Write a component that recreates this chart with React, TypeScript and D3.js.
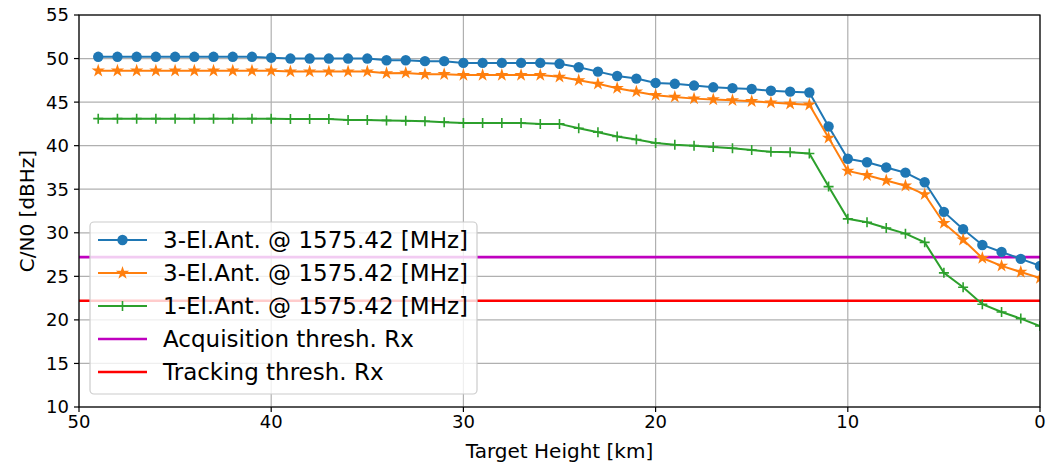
import * as d3 from "d3";
import { useEffect, useRef } from "react";

// target height in km, 49 down to 0
const heights = d3.range(49, -1, -1);

const ant3a = [
  50.2, 50.2, 50.2, 50.2, 50.2, 50.2, 50.2, 50.2, 50.2, 50.1,
  50.0, 50.0, 50.0, 50.0, 50.0, 49.8, 49.8, 49.7, 49.7, 49.5,
  49.5, 49.5, 49.5, 49.5, 49.4, 49.0, 48.5, 48.0, 47.7, 47.2,
  47.1, 46.9, 46.7, 46.6, 46.5, 46.3, 46.2, 46.1, 42.2, 38.5,
  38.1, 37.5, 36.9, 35.8, 32.4, 30.4, 28.6, 27.8, 27.0, 26.2,
];
const ant3b = [
  48.6, 48.6, 48.6, 48.6, 48.6, 48.6, 48.6, 48.6, 48.6, 48.6,
  48.5, 48.5, 48.5, 48.5, 48.5, 48.3, 48.35, 48.2, 48.2, 48.1,
  48.1, 48.1, 48.1, 48.1, 47.9, 47.5, 47.1, 46.6, 46.2, 45.8,
  45.6, 45.4, 45.3, 45.2, 45.1, 44.95, 44.8, 44.7, 40.9, 37.1,
  36.6, 36.0, 35.4, 34.4, 31.1, 29.2, 27.1, 26.2, 25.5, 24.8,
];
const ant1 = [
  43.1, 43.1, 43.1, 43.1, 43.1, 43.1, 43.1, 43.1, 43.1, 43.1,
  43.05, 43.05, 43.05, 42.95, 42.95, 42.9, 42.85, 42.8, 42.7, 42.6,
  42.6, 42.6, 42.6, 42.5, 42.5, 42.0, 41.55, 41.05, 40.7, 40.3,
  40.1, 40.0, 39.85, 39.7, 39.5, 39.3, 39.25, 39.1, 35.3, 31.6,
  31.2, 30.55, 29.9, 28.9, 25.4, 23.75, 21.8, 20.9, 20.15, 19.3,
];
const acqThresh = 27.2;
const trkThresh = 22.2;

const seriesLabels = [
  "3-El.Ant. @ 1575.42 [MHz]",
  "3-El.Ant. @ 1575.42 [MHz]",
  "1-El.Ant. @ 1575.42 [MHz]",
];
const threshLabels = ["Acquisition thresh. Rx", "Tracking thresh. Rx"];
const xTicks = [50, 40, 30, 20, 10, 0];
const yTicks = [10, 15, 20, 25, 30, 35, 40, 45, 50, 55];

const W = 1052;
const H = 467;
const FONT = "'DejaVu Sans', sans-serif";

const draw = (el: SVGSVGElement) => {
  const svg = d3.select(el);
  svg.selectAll("*").remove();

  const left = 79, right = 1040, top = 15, bottom = 407;
  const x = d3.scaleLinear().domain([50, 0]).range([left, right]);
  const y = d3.scaleLinear().domain([10, 55]).range([bottom, top]);

  svg.append("defs").append("clipPath").attr("id", "plotclip")
    .append("rect").attr("x", left).attr("y", top)
    .attr("width", right - left).attr("height", bottom - top);

  // grid
  const grid = svg.append("g").attr("stroke", "#b0b0b0").attr("stroke-width", 1.2);
  grid.selectAll("line.gx").data(xTicks).join("line")
    .attr("x1", (d) => x(d)).attr("x2", (d) => x(d)).attr("y1", top).attr("y2", bottom);
  grid.selectAll("line.gy").data(yTicks).join("line").attr("class", "gy")
    .attr("x1", left).attr("x2", right).attr("y1", (d) => y(d)).attr("y2", (d) => y(d));

  const plot = svg.append("g").attr("clip-path", "url(#plotclip)");

  // thresholds
  [
    { v: acqThresh, c: "#bf00bf" },
    { v: trkThresh, c: "#ff0000" },
  ].forEach((t) => {
    plot.append("line").attr("x1", left).attr("x2", right)
      .attr("y1", y(t.v)).attr("y2", y(t.v))
      .attr("stroke", t.c).attr("stroke-width", 2.6);
  });

  const series = [
    { vals: ant3a, c: "#1f77b4", m: "circle" },
    { vals: ant3b, c: "#ff7f0e", m: "star" },
    { vals: ant1, c: "#2ca02c", m: "plus" },
  ];

  const line = d3.line<[number, number]>().x((d) => x(d[0])).y((d) => y(d[1]));
  const star = d3.symbol().type(d3.symbolStar).size(55)();

  const marker = (g: any, m: string, c: string, cx: number, cy: number) => {
    if (m === "circle") {
      g.append("circle").attr("cx", cx).attr("cy", cy).attr("r", 5.2).attr("fill", c);
    } else if (m === "star") {
      g.append("path").attr("d", star).attr("transform", `translate(${cx},${cy})`).attr("fill", c);
    } else {
      g.append("path").attr("d", `M${cx - 5},${cy}H${cx + 5}M${cx},${cy - 5}V${cy + 5}`)
        .attr("stroke", c).attr("stroke-width", 1.6);
    }
  };

  series.forEach((s) => {
    const pts = heights.map((h, i) => [h, s.vals[i]] as [number, number]);
    plot.append("path").attr("d", line(pts)).attr("fill", "none")
      .attr("stroke", s.c).attr("stroke-width", 2);
    const mg = plot.append("g");
    pts.forEach((p) => marker(mg, s.m, s.c, x(p[0]), y(p[1])));
  });

  // frame
  svg.append("rect").attr("x", left).attr("y", top)
    .attr("width", right - left).attr("height", bottom - top)
    .attr("fill", "none").attr("stroke", "#000").attr("stroke-width", 1.2);

  // axes ticks
  const ax = svg.append("g").attr("font-family", FONT).attr("font-size", 18).attr("fill", "#000");
  xTicks.forEach((t) => {
    ax.append("line").attr("x1", x(t)).attr("x2", x(t)).attr("y1", bottom).attr("y2", bottom + 5)
      .attr("stroke", "#000").attr("stroke-width", 1.2);
    ax.append("text").attr("x", x(t)).attr("y", bottom + 21).attr("text-anchor", "middle").text(t);
  });
  yTicks.forEach((t) => {
    ax.append("line").attr("x1", left - 5).attr("x2", left).attr("y1", y(t)).attr("y2", y(t))
      .attr("stroke", "#000").attr("stroke-width", 1.2);
    ax.append("text").attr("x", left - 10).attr("y", y(t)).attr("dy", "0.36em")
      .attr("text-anchor", "end").text(t);
  });

  svg.append("text").attr("x", (left + right) / 2).attr("y", 458)
    .attr("text-anchor", "middle").attr("font-family", FONT).attr("font-size", 20)
    .text("Target Height [km]");
  svg.append("text").attr("transform", `translate(34,${(top + bottom) / 2}) rotate(-90)`)
    .attr("text-anchor", "middle").attr("font-family", FONT).attr("font-size", 20)
    .text("C/N0 [dBHz]");

  // legend
  const lg = svg.append("g");
  lg.append("rect").attr("x", 90).attr("y", 222).attr("width", 387).attr("height", 172)
    .attr("rx", 4).attr("fill", "#fff").attr("fill-opacity", 0.8)
    .attr("stroke", "#cccccc").attr("stroke-width", 1.2);
  const entries = [
    ...series.map((s, i) => ({ label: seriesLabels[i], c: s.c, m: s.m, w: 2 })),
    { label: threshLabels[0], c: "#bf00bf", m: "", w: 2.6 },
    { label: threshLabels[1], c: "#ff0000", m: "", w: 2.6 },
  ];
  entries.forEach((e, i) => {
    const cy = 240 + i * 33;
    lg.append("line").attr("x1", 98).attr("x2", 147).attr("y1", cy).attr("y2", cy)
      .attr("stroke", e.c).attr("stroke-width", e.w);
    if (e.m) marker(lg, e.m, e.c, 122.5, cy);
    lg.append("text").attr("x", 163).attr("y", cy).attr("dy", "0.36em")
      .attr("font-family", FONT).attr("font-size", 23).text(e.label);
  });
};

export default function App() {
  const svgRef = useRef<SVGSVGElement>(null);
  useEffect(() => {
    if (svgRef.current) draw(svgRef.current);
  }, []);
  return (
    <svg
      ref={svgRef}
      width={W}
      height={H}
      style={{ position: "absolute", left: 0, top: 0, background: "#fff" }}
    />
  );
}
